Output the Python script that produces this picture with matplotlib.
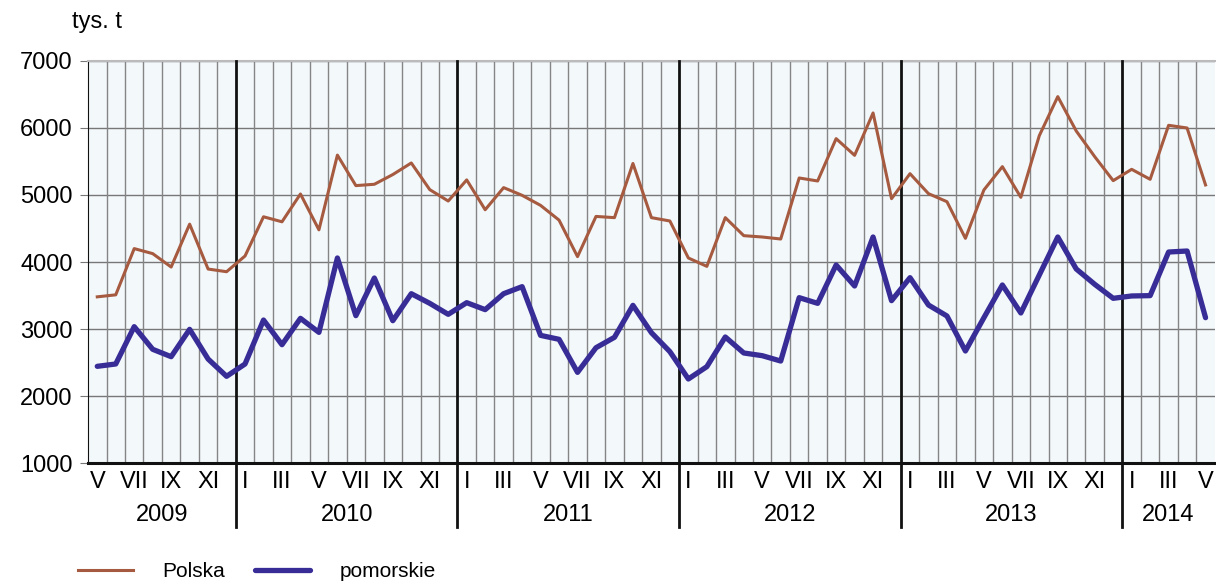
import numpy as np
import matplotlib.pyplot as plt
import matplotlib.transforms as mtransforms

plt.rcParams['font.family'] = ['Liberation Sans', 'DejaVu Sans']

# Monthly values, V 2009 - V 2014 (tys. t)
polska = [3480, 3510, 4200, 4125, 3925, 4565, 3895, 3855,
          4090, 4675, 4600, 5015, 4480, 5595, 5140, 5160, 5305, 5478, 5080, 4910,
          5225, 4780, 5110, 4995, 4845, 4625, 4080, 4680, 4662, 5470, 4662, 4612,
          4060, 3935, 4662, 4393, 4373, 4343, 5254, 5209, 5841, 5592, 6224, 4945,
          5318, 5020, 4900, 4353, 5075, 5423, 4965, 5886, 6468, 5955, 5572, 5214,
          5383, 5234, 6040, 6000, 5150]
pomorskie = [2443, 2478, 3035, 2697, 2587, 2995, 2552, 2294,
             2478, 3134, 2766, 3159, 2950, 4060, 3199, 3761, 3124, 3527, 3383, 3219,
             3393, 3289, 3527, 3632, 2905, 2846, 2353, 2721, 2876, 3353, 2945, 2662,
             2254, 2438, 2881, 2642, 2602, 2522, 3468, 3383, 3955, 3642, 4373, 3423,
             3766, 3358, 3194, 2672, 3169, 3657, 3239, 3806, 4373, 3896, 3667, 3458,
             3493, 3498, 4149, 4164, 3169]
months = ['V', 'VI', 'VII', 'VIII', 'IX', 'X', 'XI', 'XII'] + \
         ['I', 'II', 'III', 'IV', 'V', 'VI', 'VII', 'VIII', 'IX', 'X', 'XI', 'XII'] * 4 + \
         ['I', 'II', 'III', 'IV', 'V']
years = ['2009', '2010', '2011', '2012', '2013', '2014']
year_len = [8, 12, 12, 12, 12, 5]

x = np.arange(len(polska))

fig = plt.figure(figsize=(12.16, 5.83), dpi=100)
ax = fig.add_axes([0.0724, 0.2058, 0.9266, 0.6896])
ax.set_facecolor('#f3f8fb')

# year boundaries
bounds = np.cumsum(year_len)[:-1] - 0.5
for k in range(len(x) - 1):
    b = k + 0.5
    if b in bounds:
        continue
    ax.axvline(b, color='#858585', lw=1, zorder=1)
for b in bounds:
    ax.plot([b, b], [-0.16, 1], transform=ax.get_xaxis_transform(),
            color='#111111', lw=2, clip_on=False, zorder=3)

ax.plot(x, polska, color='#a65a3f', lw=2.2, zorder=4, label='Polska')
ax.plot(x, pomorskie, color='#382c97', lw=3.8, zorder=5, label='pomorskie',
        solid_capstyle='round')

ax.set_xlim(-0.5, len(x) - 0.5)
ax.set_ylim(1000, 7000)
ax.set_yticks(range(1000, 7001, 1000))
ax.yaxis.grid(True, color='#777777', lw=1)
ax.set_axisbelow(True)
ax.tick_params(axis='y', length=6, color='#777777', labelsize=17, pad=5)

ax.set_xticks(x)
ax.set_xticklabels([m if m in ('I', 'III', 'V', 'VII', 'IX', 'XI') else '' for m in months])
ax.tick_params(axis='x', length=0, labelsize=17, pad=6)

ax.spines['right'].set_visible(False)
ax.spines['top'].set_color('#bbbbbb')
ax.spines['top'].set_linewidth(1.5)
ax.spines['left'].set_color('#111111')
ax.spines['bottom'].set_color('#111111')
ax.spines['bottom'].set_linewidth(2.2)

trans = mtransforms.blended_transform_factory(ax.transData, ax.transAxes)
start = -0.5
for yr, n in zip(years, year_len):
    ax.text(start + n / 2, -0.13, yr, transform=trans, ha='center', va='center', fontsize=17)
    start += n

fig.text(0.059, 0.962, 'tys. t', fontsize=17, ha='left', va='center')

leg = fig.legend(loc='center left', bbox_to_anchor=(0.064, 0.019), ncol=2, frameon=False,
                 fontsize=15, handlelength=2.65, columnspacing=1.45, handletextpad=1.4,
                 borderpad=0, borderaxespad=0)

fig.savefig('out.png', dpi=100)
